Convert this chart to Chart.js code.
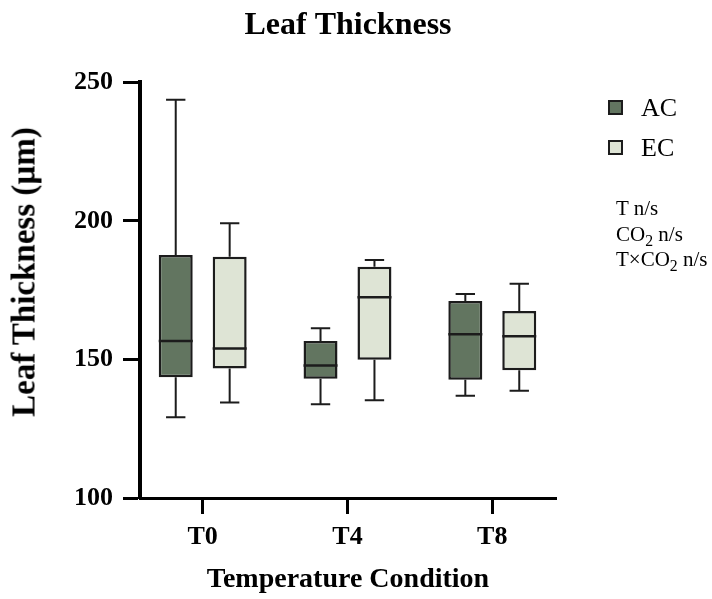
<!DOCTYPE html>
<html>
<head>
<meta charset="utf-8">
<script src="https://cdn.jsdelivr.net/npm/chart.js@4/dist/chart.umd.min.js"></script>
<style>
  html, body { margin: 0; padding: 0; background: #fff; overflow: hidden; }
  #wrap { position: relative; width: 712px; height: 599px; }
  #chart { position: absolute; left: 0; top: 0; }
  .lg-box { position: absolute; width: 15px; height: 15px; box-sizing: border-box; border: 2px solid #1c1c1c; }
  .lg-txt { position: absolute; font-family: "Liberation Serif", serif; font-size: 26px; line-height: 26px; color: #000; white-space: nowrap; }
  .note { position: absolute; left: 616px; top: 196px; font-family: "Liberation Serif", serif; font-size: 21px; line-height: 25.7px; color: #000; white-space: nowrap; }
  .note sub { font-size: 0.75em; vertical-align: -5px; line-height: 0; }
  #ytitle { position: absolute; left: 24px; top: 272px; transform: translate(-50%, -50%) rotate(-90deg);
            font-family: "Liberation Serif", serif; font-weight: bold; font-size: 33px; line-height: 33px; color: #000; white-space: nowrap; }
</style>
</head>
<body>
<div id="wrap">
  <canvas id="chart" width="712" height="599"></canvas>
  <div id="ytitle">Leaf Thickness (µm)</div>
  <div class="lg-box" style="left:608px; top:100px; background:#627560;"></div>
  <div class="lg-txt" style="left:641px; top:95px;">AC</div>
  <div class="lg-box" style="left:608px; top:140px; background:#DEE4D5;"></div>
  <div class="lg-txt" style="left:641px; top:135px;">EC</div>
  <div class="note">T n/s<br>CO<sub>2</sub> n/s<br>T×CO<sub>2</sub> n/s</div>
</div>
<script>
// ---- data ----
const categories = ['T0', 'T4', 'T8'];
const seriesNames = ['AC', 'EC'];
const acMin = [129.1, 133.8, 136.9];
const acQ1  = [143.6, 143.0, 142.7];
const acMed = [156.7, 147.8, 159.1];
const acQ3  = [187.7, 156.7, 171.1];
const acMax = [243.7, 161.3, 173.6];
const ecMin = [134.5, 135.3, 138.7];
const ecQ1  = [146.7, 149.9, 146.1];
const ecMed = [154.0, 172.5, 158.4];
const ecQ3  = [187.1, 183.5, 167.5];
const ecMax = [199.2, 185.9, 177.3];
const yTicks = [100, 150, 200, 250];

const FONT = 'Liberation Serif';
const boxStats = [
  { min: acMin, q1: acQ1, med: acMed, q3: acQ3, max: acMax },
  { min: ecMin, q1: ecQ1, med: ecMed, q3: ecQ3, max: ecMax }
];

const whiskerPlugin = {
  id: 'whiskers',
  afterDatasetsDraw(chart) {
    const ctx = chart.ctx;
    const ys = chart.scales.y;
    chart.data.datasets.forEach((ds, di) => {
      const meta = chart.getDatasetMeta(di);
      const st = boxStats[di];
      meta.data.forEach((bar, i) => {
        const { x, width } = bar.getProps(['x', 'width'], true);
        const pMin = ys.getPixelForValue(st.min[i]);
        const pMax = ys.getPixelForValue(st.max[i]);
        const pMed = ys.getPixelForValue(st.med[i]);
        const pQ1 = ys.getPixelForValue(st.q1[i]);
        const pQ3 = ys.getPixelForValue(st.q3[i]);
        const cap = width * 0.57;
        ctx.save();
        ctx.strokeStyle = '#1c1c1c';
        ctx.lineWidth = 2;
        ctx.beginPath();
        ctx.moveTo(x, pQ3); ctx.lineTo(x, pMax);
        ctx.moveTo(x, pQ1); ctx.lineTo(x, pMin);
        ctx.moveTo(x - cap / 2, pMax); ctx.lineTo(x + cap / 2, pMax);
        ctx.moveTo(x - cap / 2, pMin); ctx.lineTo(x + cap / 2, pMin);
        ctx.stroke();
        ctx.lineWidth = 2.5;
        ctx.beginPath();
        ctx.moveTo(x - width / 2, pMed); ctx.lineTo(x + width / 2, pMed);
        ctx.stroke();
        ctx.restore();
      });
    });
  }
};

const colors = ['#627560', '#DEE4D5'];
const datasets = [acQ1, ecQ1].map((q1, di) => ({
  label: seriesNames[di],
  data: categories.map((c, i) => ({ x: i, y: [q1[i], boxStats[di].q3[i]] })),
  backgroundColor: colors[di],
  borderColor: '#1c1c1c',
  borderWidth: 2.5,
  borderSkipped: false
}));

new Chart(document.getElementById('chart'), {
  type: 'bar',
  data: { datasets },
  options: {
    responsive: false,
    animation: false,
    categoryPercentage: 0.745,
    barPercentage: 0.63,
    layout: { padding: { left: 0, right: 156, top: 0, bottom: 0 } },
    plugins: {
      legend: { display: false },
      tooltip: { enabled: false },
      title: {
        display: true,
        text: 'Leaf Thickness',
        fullSize: false,
        color: '#000',
        font: { family: FONT, size: 32, weight: 'bold', lineHeight: 1.2 },
        padding: { top: 7, bottom: 37 }
      }
    },
    scales: {
      x: {
        type: 'linear',
        min: -0.433,
        max: 2.44,
        offset: false,
        afterBuildTicks: (s) => { s.ticks = categories.map((c, i) => ({ value: i })); },
        afterFit: (s) => { s.height = 101; },
        ticks: {
          callback: (v) => categories[v],
          color: '#000',
          padding: 8,
          maxRotation: 0,
          font: { family: FONT, size: 26, weight: 'bold', lineHeight: 1.2 }
        },
        grid: { offset: false, drawOnChartArea: false, drawTicks: true, tickLength: 16, tickWidth: 3, tickColor: '#000' },
        border: { display: true, width: 3, color: '#000' },
        title: {
          display: true,
          text: 'Temperature Condition',
          color: '#000',
          font: { family: FONT, size: 28, weight: 'bold', lineHeight: 1.2 },
          padding: { top: 0, bottom: 2 }
        }
      },
      y: {
        min: 100,
        max: 250,
        afterBuildTicks: (s) => { s.ticks = yTicks.map(v => ({ value: v })); },
        afterFit: (s) => { s.width = 140; },
        ticks: {
          color: '#000',
          padding: 10,
          font: { family: FONT, size: 26, weight: 'bold', lineHeight: 1.2 }
        },
        grid: { drawOnChartArea: false, drawTicks: true, tickLength: 17, tickWidth: 3, tickColor: '#000' },
        border: { display: true, width: 4, color: '#000' },
        title: { display: false }
      }
    }
  },
  plugins: [whiskerPlugin]
});
</script>
</body>
</html>
